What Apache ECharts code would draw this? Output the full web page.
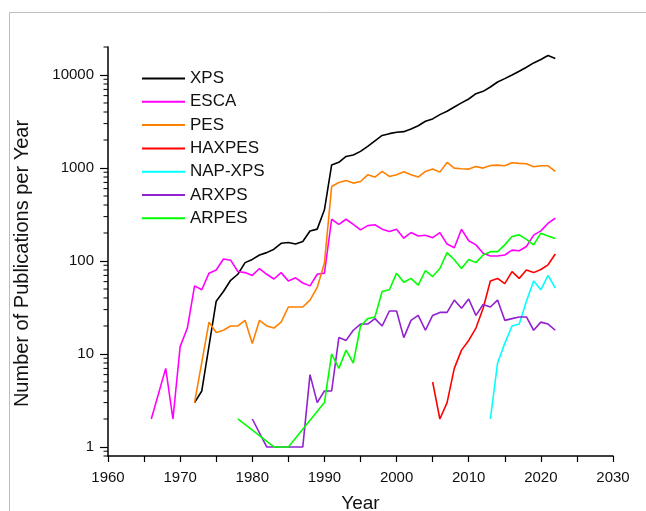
<!DOCTYPE html>
<html>
<head>
<meta charset="utf-8">
<script src="https://cdn.jsdelivr.net/npm/echarts@6/dist/echarts.min.js"></script>
<style>
html,body{margin:0;padding:0;background:#fff;}
#chart{width:646px;height:511px;}
</style>
</head>
<body>
<div id="chart"></div>
<script>
// ---- Data (publications per year) ----
const seriesNames = ['XPS', 'ESCA', 'PES', 'HAXPES', 'NAP-XPS', 'ARXPS', 'ARPES'];

const xpsStart = 1972;
const xpsCounts = [3, 4, null, 37, 47, 62, 72, 96, 104, 116, 123, 134, 155, 158, 152, 162, 210, 220, 355,
  1080, 1150, 1330, 1380, 1510, 1710, 1960, 2240, 2340, 2420, 2460, 2620, 2850, 3180, 3370, 3750, 4070,
  4530, 5010, 5520, 6300, 6670, 7430, 8410, 9140, 10000, 10960, 12100, 13490, 14650, 16180, 15030];

const escaStart = 1966;
const escaCounts = [2, null, 7, 2, 12, 19, 54, 49, 74, 80,
  105, 102, 77, 75, 70, 83, 72, 64, 75, 61,
  66, 58, 54, 72, 74, 281, 248, 281, 248, 216,
  240, 245, 220, 207, 219, 176, 202, 186, 189, 178,
  202, 152, 139, 219, 165, 149, 121, 113, 113, 116,
  131, 129, 143, 190, 211, 255, 288];

const pesStart = 1972;
const pesCounts = [3, null, 22, 17, 18, 20, 20, 23, 13, 23, 20, 19, 22, 32, 32, 32, 38, 52, 95,
  632, 698, 734, 688, 716, 845, 798, 918, 811, 845, 910, 845, 798, 918, 973, 903, 1147,
  997, 981, 973, 1039, 997, 1065, 1074, 1057, 1138, 1120, 1110, 1030, 1057, 1057, 918];

const haxpesStart = 2005;
const haxpesCounts = [5, 2, 3, 7, 11, 14, 19, 31, 61, 65, 57, 77, 65, 80, 75, 81, 91, 119];

const napxpsStart = 2013;
const napxpsCounts = [2, 8, 13, 20, 21, 37, 61, 49, 70, 51];

const arxpsStart = 1980;
const arxpsCounts = [2, null, 1, 1, 1, 1, 1, 1, 6, 3, 4, 4, 15, 14, 18, 21, 21, 24,
  20, 29, 29, 15, 23, 26, 18, 26, 28, 28, 38, 31, 39, 26, 34, 32, 38, 23, 24, 25,
  25, 18, 22, 21, 18];

const arpesStart = 1978;
const arpesCounts = [2, null, null, null, null, 1, 1, 1, null, null, null, null,
  3, 10, 7, 11, 8, 20, 24, 25, 47, 49, 74, 59, 65, 55, 79, 68, 83, 123,
  103, 83, 104, 96, 116, 126, 126, 149, 183, 191, 171, 149, 199, 186, 174];

const yMajorLabels = [1, 10, 100, 1000, 10000];

// ---- Styles ----
const colors = {
  'XPS': '#000000', 'ESCA': '#ff00ff', 'PES': '#ff8000', 'HAXPES': '#ff0000',
  'NAP-XPS': '#00ffff', 'ARXPS': '#9020d0', 'ARPES': '#00ff00'
};
const FONT = '"Liberation Sans", Arial, sans-serif';

function toPairs(start, counts) {
  return counts.map((v, i) => [start + i, v]);
}
const seriesData = {
  'XPS': toPairs(xpsStart, xpsCounts),
  'ESCA': toPairs(escaStart, escaCounts),
  'PES': toPairs(pesStart, pesCounts),
  'HAXPES': toPairs(haxpesStart, haxpesCounts),
  'NAP-XPS': toPairs(napxpsStart, napxpsCounts),
  'ARXPS': toPairs(arxpsStart, arxpsCounts),
  'ARPES': toPairs(arpesStart, arpesCounts)
};

// minor log ticks (2..9 per decade) drawn through the axis scale
const minorTickVals = [];
[0.1, 1, 10, 100, 1000, 10000].forEach(d => {
  for (let m = 2; m <= 9; m++) {
    const v = +(m * d).toPrecision(3);
    if (v >= 0.8 && v <= 20000 && v !== 1) minorTickVals.push(v);
  }
});

const lineSeries = seriesNames.map(n => ({
  name: n,
  type: 'line',
  data: seriesData[n],
  symbol: 'none',
  showSymbol: false,
  connectNulls: true,
  lineStyle: { color: colors[n], width: 1.6 },
  itemStyle: { color: colors[n] },
  silent: true,
  z: 3
}));

const chart = echarts.init(document.getElementById('chart'), null, { renderer: 'canvas' });
chart.setOption({
  animation: false,
  backgroundColor: '#ffffff',
  textStyle: { fontFamily: FONT },
  graphic: [
    { type: 'line', shape: { x1: 9.5, y1: 12.5, x2: 646, y2: 12.5 }, style: { stroke: '#bdbdbd', lineWidth: 1 } },
    { type: 'line', shape: { x1: 9.5, y1: 12.5, x2: 9.5, y2: 511 }, style: { stroke: '#bdbdbd', lineWidth: 1 } }
  ],
  grid: { left: 108, right: 33, top: 47, bottom: 55, containLabel: false, outerBoundsMode: 'none' },
  legend: {
    data: seriesNames,
    orient: 'vertical',
    left: 137,
    top: 65,
    icon: 'rect',
    itemWidth: 43,
    itemHeight: 2,
    itemGap: 6.3,
    textStyle: { fontSize: 17, color: '#111', fontFamily: FONT, lineHeight: 17 },
    selectedMode: false
  },
  xAxis: {
    type: 'value',
    min: 1960,
    max: 2030,
    interval: 5,
    axisLine: { show: true, onZero: false, lineStyle: { color: '#000', width: 1.5 } },
    axisTick: { show: true, length: 6, lineStyle: { color: '#000', width: 1.2 } },
    axisLabel: {
      fontSize: 15, color: '#111', margin: 14, fontFamily: FONT,
      formatter: v => (v % 10 === 0 ? String(v) : '')
    },
    splitLine: { show: false },
    name: 'Year',
    nameLocation: 'middle',
    nameGap: 38,
    nameTextStyle: { fontSize: 19, color: '#111', fontFamily: FONT }
  },
  yAxis: {
    type: 'log',
    logBase: 10,
    min: 0.8,
    max: 20000,
    axisLine: { show: true, onZero: false, lineStyle: { color: '#000', width: 1.5 } },
    axisTick: { show: true, length: 8, lineStyle: { color: '#000', width: 1.2 } },
    axisLabel: {
      fontSize: 15, color: '#111', margin: 14, fontFamily: FONT,
      showMinLabel: false, showMaxLabel: false,
      formatter: v => {
        const r = Math.round(v);
        return yMajorLabels.indexOf(r) >= 0 && Math.abs(v - r) < 1e-6 * r ? String(r) : '';
      }
    },
    splitLine: { show: false },
    name: 'Number of Publications per Year',
    nameLocation: 'middle',
    nameGap: 76,
    nameTextStyle: { fontSize: 20, color: '#111', fontFamily: FONT, padding: [0, 24, 0, 0] }
  },
  series: lineSeries.concat([{
    type: 'custom',
    name: 'minorTicks',
    silent: true,
    clip: false,
    data: minorTickVals.map(v => [1960, v]),
    encode: { x: 0, y: 1 },
    renderItem: (params, api) => {
      const p = api.coord([api.value(0), api.value(1)]);
      return {
        type: 'line',
        shape: { x1: p[0] - 4.5, y1: p[1], x2: p[0], y2: p[1] },
        style: { stroke: '#000', lineWidth: 1 }
      };
    },
    z: 4
  }])
});
</script>
</body>
</html>
